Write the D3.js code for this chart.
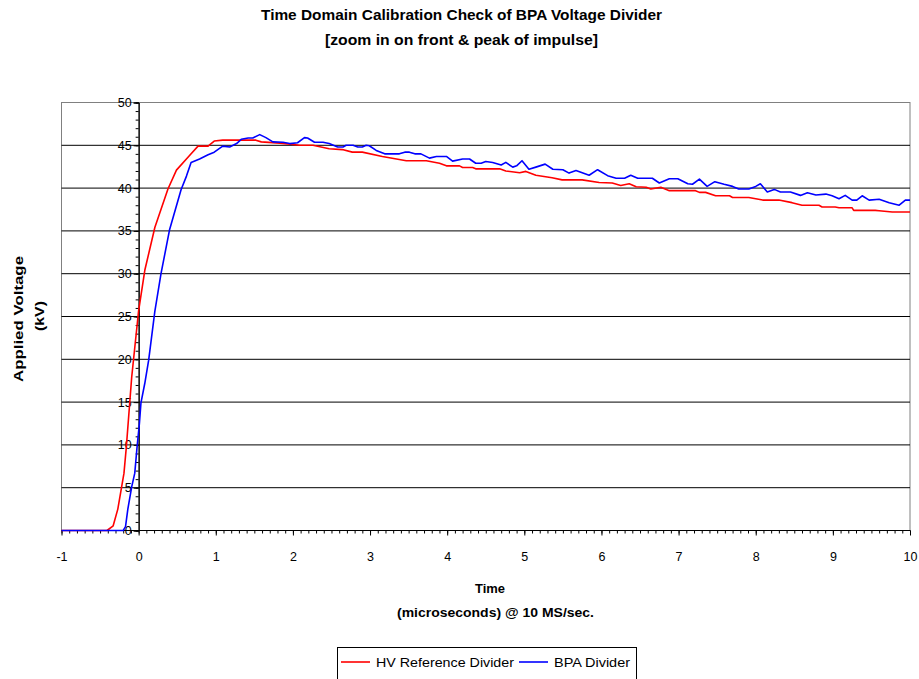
<!DOCTYPE html>
<html>
<head>
<meta charset="utf-8">
<script src="https://cdn.jsdelivr.net/npm/d3@7"></script>
<style>
  body { margin: 0; background: #fff; }
  text { font-family: "Liberation Sans", Arial, sans-serif; fill: #000; }
  .bold { font-weight: bold; }
</style>
</head>
<body>
<div id="chart"></div>
<script>
// values (time in microseconds, voltage in kV)
var refTime = [-1, -0.41, -0.33, -0.27, -0.19, -0.16, -0.09, 0.0, 0.08, 0.21, 0.38, 0.49, 0.66, 0.77, 0.90, 0.98, 1.09, 1.52, 1.59, 1.83,
  2.09, 2.26, 2.47, 2.64, 2.77, 2.90, 3.16, 3.47, 3.73, 3.90, 3.99, 4.16, 4.20, 4.33, 4.37, 4.68, 4.76, 4.94, 5.02, 5.15,
  5.36, 5.49, 5.75, 5.97, 6.14, 6.25, 6.36, 6.45, 6.58, 6.64, 6.77, 6.88, 7.22, 7.27, 7.35, 7.48, 7.66, 7.70, 7.91, 8.09,
  8.30, 8.47, 8.60, 8.82, 8.86, 9.03, 9.08, 9.25, 9.27, 9.55, 9.60, 9.77, 10.0];
var refVolt = [0, 0, 0.55, 2.5, 6.7, 9.7, 17.9, 25.7, 30.4, 35.4, 39.9, 42.1, 43.8, 44.9, 44.9, 45.5, 45.6, 45.6, 45.4, 45.25,
  45.0, 45.0, 44.6, 44.5, 44.2, 44.2, 43.7, 43.2, 43.2, 42.9, 42.6, 42.6, 42.4, 42.4, 42.25, 42.25, 42.0, 41.8, 41.95, 41.5,
  41.2, 40.96, 40.96, 40.65, 40.6, 40.3, 40.5, 40.15, 40.1, 39.9, 40.1, 39.7, 39.7, 39.5, 39.5, 39.1, 39.1, 38.9, 38.9, 38.6,
  38.6, 38.3, 38.0, 38.0, 37.8, 37.8, 37.7, 37.7, 37.4, 37.4, 37.35, 37.2, 37.2];

var bpaTime = [-1, -0.2, -0.17, -0.14, -0.09, -0.05, -0.02, 0.01, 0.03, 0.08, 0.13, 0.21, 0.29, 0.40, 0.55, 0.62, 0.68, 0.79, 0.90, 0.98,
  1.09, 1.18, 1.27, 1.33, 1.42, 1.48, 1.57, 1.65, 1.74, 1.87, 1.96, 2.06, 2.15, 2.19, 2.28, 2.39, 2.47, 2.58, 2.65, 2.69,
  2.78, 2.84, 2.90, 2.95, 2.99, 3.08, 3.19, 3.38, 3.45, 3.51, 3.58, 3.66, 3.77, 3.86, 3.99, 4.07, 4.20, 4.29, 4.37, 4.44,
  4.50, 4.59, 4.70, 4.76, 4.85, 4.90, 4.97, 5.06, 5.15, 5.27, 5.37, 5.50, 5.58, 5.67, 5.84, 5.95, 6.08, 6.19, 6.30, 6.38,
  6.47, 6.66, 6.75, 6.88, 6.99, 7.12, 7.18, 7.27, 7.37, 7.47, 7.59, 7.70, 7.78, 7.91, 8.00, 8.06, 8.15, 8.24, 8.32, 8.45,
  8.58, 8.67, 8.78, 8.91, 8.99, 9.08, 9.16, 9.25, 9.31, 9.38, 9.47, 9.60, 9.73, 9.86, 9.94, 10.0];
var bpaVolt = [0, 0, 0.45, 2.5, 5.1, 6.7, 9.8, 12.5, 14.9, 17.2, 19.9, 25.6, 30.0, 35.1, 39.8, 41.4, 43.0, 43.4, 43.9, 44.2,
  44.9, 44.8, 45.2, 45.7, 45.85, 45.85, 46.25, 45.9, 45.4, 45.35, 45.2, 45.3, 45.9, 45.85, 45.35, 45.35, 45.2, 44.8, 44.8, 45.0,
  45.0, 44.8, 44.8, 45.0, 44.95, 44.4, 44.0, 44.0, 44.2, 44.2, 44.0, 44.0, 43.5, 43.7, 43.7, 43.15, 43.4, 43.4, 42.9, 42.9,
  43.1, 43.0, 42.7, 43.0, 42.45, 42.6, 43.2, 42.2, 42.45, 42.8, 42.2, 42.15, 41.75, 42.05, 41.5, 42.15, 41.45, 41.15, 41.15, 41.5,
  41.15, 41.15, 40.6, 41.1, 41.1, 40.5, 40.45, 41.05, 40.2, 40.75, 40.45, 40.2, 39.9, 39.9, 40.2, 40.5, 39.55, 39.85, 39.55, 39.55,
  39.15, 39.45, 39.2, 39.3, 39.1, 38.75, 39.15, 38.6, 38.6, 39.1, 38.6, 38.7, 38.3, 38.0, 38.6, 38.6];

var seriesNames = ["HV Reference Divider", "BPA Divider"];
var seriesColors = ["#ff0000", "#0000ff"];
var xTicks = [-1, 0, 1, 2, 3, 4, 5, 6, 7, 8, 9, 10];
var yTicks = [0, 5, 10, 15, 20, 25, 30, 35, 40, 45, 50];

var svgWidth = 919;
var svgHeight = 679;
var plot = { left: 61.5, right: 910, top: 102.5, bottom: 530.5 };

var svg = d3.select("#chart")
  .append("svg")
  .attr("width", svgWidth)
  .attr("height", svgHeight);

var xScale = d3.scaleLinear().domain([-1, 10]).range([plot.left, plot.right]);
var yScale = d3.scaleLinear().domain([0, 50]).range([plot.bottom, plot.top]);

// helper for the stretched excel-style labels
function label(x, y, str, size, width, bold, rotate) {
  var t = svg.append("text")
    .attr("text-anchor", "middle")
    .attr("font-size", size)
    .attr("textLength", width)
    .attr("lengthAdjust", "spacingAndGlyphs")
    .text(str);
  if (bold) t.attr("class", "bold");
  if (rotate) t.attr("transform", `translate(${x},${y}) rotate(-90)`);
  else t.attr("x", x).attr("y", y);
  return t;
}

// titles
label(461.5, 20, "Time Domain Calibration Check of BPA Voltage Divider", 14, 401, true);
label(461.5, 45, "[zoom in on front & peak of impulse]", 14, 273, true);

// plot frame
svg.append("rect")
  .attr("x", plot.left).attr("y", plot.top)
  .attr("width", plot.right - plot.left).attr("height", plot.bottom - plot.top)
  .attr("fill", "none").attr("stroke", "#808080").attr("stroke-width", 1);

// horizontal gridlines
svg.append("g").selectAll("line")
  .data(yTicks.filter(d => d > 0 && d < 50))
  .enter().append("line")
  .attr("x1", plot.left).attr("x2", plot.right)
  .attr("y1", d => yScale(d)).attr("y2", d => yScale(d))
  .attr("stroke", "#000").attr("stroke-width", 1);

// y axis sits at time = 0
var yMinor = d3.axisLeft(yScale).ticks(50).tickSize(3).tickFormat("");
var yMajor = d3.axisLeft(yScale).tickValues(yTicks).tickSize(5).tickPadding(2);
var yAxisG = svg.append("g").attr("transform", `translate(${xScale(0)},0)`);
yAxisG.append("g").call(yMinor);
yAxisG.append("g").call(yMajor);

// x axis sits at voltage = 0
var xMinor = d3.axisBottom(xScale).ticks(110).tickSize(3).tickFormat("");
var xMajor = d3.axisBottom(xScale).tickValues(xTicks).tickSize(5).tickPadding(17).tickFormat(d => String(d));
var xAxisG = svg.append("g").attr("transform", `translate(0,${yScale(0)})`);
xAxisG.append("g").call(xMinor);
xAxisG.append("g").call(xMajor);

svg.selectAll(".tick text")
  .attr("font-family", "Liberation Sans, Arial, sans-serif")
  .attr("font-size", 12.5).attr("fill", "#000");
svg.selectAll(".domain, .tick line").attr("stroke", "#000");
xAxisG.selectAll(".domain").attr("d", `M${plot.left},0H${plot.right}`);

// curves
var line = d3.line()
  .x(d => xScale(d[0]))
  .y(d => yScale(d[1]));

var series = [
  d3.zip(refTime, refVolt),
  d3.zip(bpaTime, bpaVolt)
];

svg.append("g").selectAll("path")
  .data(series)
  .enter().append("path")
  .attr("d", line)
  .attr("fill", "none")
  .attr("stroke", (d, i) => seriesColors[i])
  .attr("stroke-width", 1.6)
  .attr("stroke-linejoin", "round");

// axis titles
label(23, 319, "Applied Voltage", 12.5, 126, true, true);
label(44, 316, "(kV)", 12.5, 30, true, true);
label(490, 593, "Time", 12.5, 30, true);
label(495.5, 617, "(microseconds) @ 10 MS/sec.", 12.5, 197, true);

// legend
var legend = svg.append("g");
legend.append("rect")
  .attr("x", 337.5).attr("y", 647.5)
  .attr("width", 299).attr("height", 45)
  .attr("fill", "#fff").attr("stroke", "#000");
var legendX = [341, 519];
var legendTextW = [138, 76];
seriesNames.forEach(function(name, i) {
  legend.append("line")
    .attr("x1", legendX[i]).attr("x2", legendX[i] + 29)
    .attr("y1", 662).attr("y2", 662)
    .attr("stroke", seriesColors[i]).attr("stroke-width", 1.6);
  legend.append("text")
    .attr("x", legendX[i] + 35).attr("y", 667)
    .attr("font-size", 13)
    .attr("textLength", legendTextW[i])
    .attr("lengthAdjust", "spacingAndGlyphs")
    .text(name);
});
</script>
</body>
</html>
